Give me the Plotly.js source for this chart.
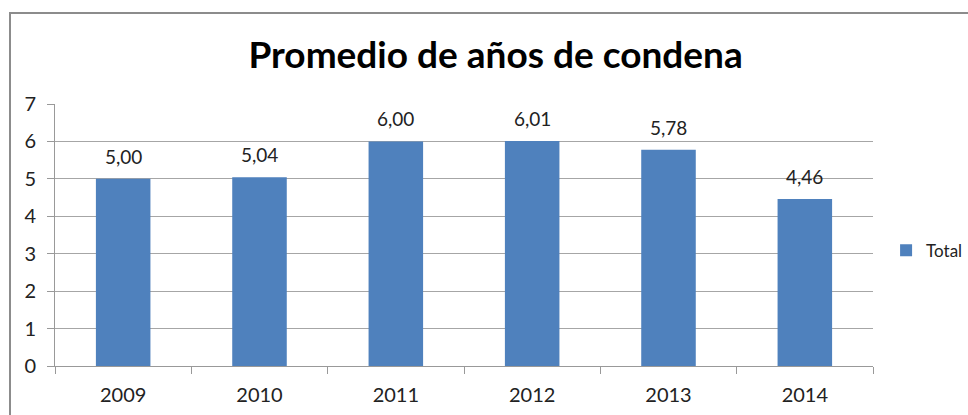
<!DOCTYPE html>
<html><head><meta charset="utf-8">
<script src="https://cdn.plot.ly/plotly-3.0.1.min.js"></script>
<style>body{margin:0;background:#fff}#wrap{position:relative;width:968px;height:415px;overflow:hidden}
#frame{position:absolute;left:9px;top:12px;width:1000px;height:500px;border:2px solid #8c8c8c;box-sizing:border-box;pointer-events:none}
#chart{position:absolute;left:0;top:0}</style>
</head><body><div id="wrap"><div id="chart"></div><div id="frame"></div></div>
<script>
var years = ['2009','2010','2011','2012','2013','2014'];
var totals = [5.00, 5.04, 6.00, 6.01, 5.78, 4.46];
var yTicks = [0,1,2,3,4,5,6,7];
var FONT = 'Lato, "Open Sans", sans-serif';
var trace = {
  type:'bar', x:years, y:totals, name:'Total',
  marker:{color:'#4F81BD'}, hoverinfo:'x+y'
};
var annotations = years.map(function(yr, i){
  return {x:i, y:totals[i], xref:'x', yref:'y', text:totals[i].toFixed(2).replace('.', ','),
    showarrow:false, yanchor:'bottom', yshift:9, font:{family:FONT, size:19, color:'#222'}};
});
var layout = {
  width:968, height:415, separators:',.',
  margin:{l:55, r:95, t:104, b:49, autoexpand:false},
  paper_bgcolor:'#fff', plot_bgcolor:'#fff',
  bargap:0.6,
  title:{text:'<b>Promedio de años de condena</b>', x:0.512, xanchor:'center', y:0.867, yanchor:'middle',
    font:{family:FONT, size:37, color:'#000'}},
  font:{family:FONT, size:15, color:'#222'},
  annotations:annotations,
  xaxis:{type:'category', range:[-0.5, years.length-0.5], showline:true, linecolor:'#999', linewidth:1, ticks:'outside', ticklen:7, tickcolor:'#999',
    tickson:'boundaries', showgrid:false, tickfont:{size:20}, ticklabelstandoff:11, tickangle:0},
  yaxis:{range:[0,7], tickvals:yTicks, showline:true, linecolor:'#999', ticks:'outside', ticklen:7, tickcolor:'#999',
    gridcolor:'#a6a6a6', gridwidth:1, zeroline:false, tickfont:{size:20}, ticklabelstandoff:7},
  showlegend:true,
  legend:{x:1.016, xanchor:'left', y:0.44, yanchor:'middle', font:{size:17, color:'#222'}, itemwidth:30}
};
Plotly.newPlot('chart',[trace],layout,{displayModeBar:false});
</script></body></html>
